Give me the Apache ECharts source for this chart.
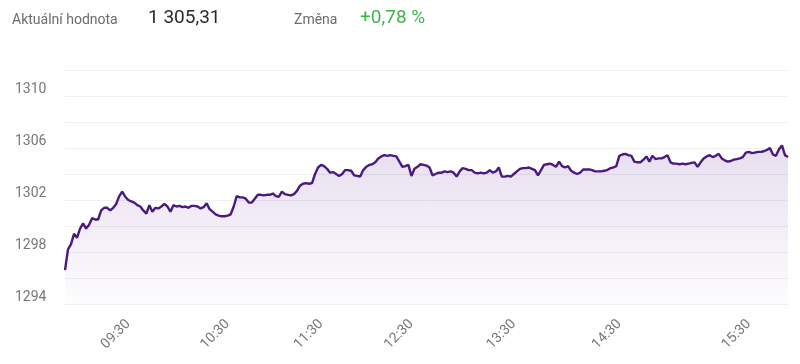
<!DOCTYPE html>
<html>
<head>
<meta charset="utf-8">
<script src="https://cdn.jsdelivr.net/npm/echarts@6/dist/echarts.min.js"></script>
<style>
html,body{margin:0;padding:0;background:#fff;}
#chart{width:800px;height:364px;}
</style>
</head>
<body>
<div id="chart"></div>
<script>
// Header texts
const headerLabel = 'Aktuální hodnota';
const headerValue = '1 305,31';
const changeLabel = 'Změna';
const changeValue = '+0,78 %';

// Tick labels shown on the time axis
const tickLabels = ['09:30', '10:30', '11:30', '12:30', '13:30', '14:30', '15:30'];
// Sampling blocks: [block start time, minutes covered, number of samples]
const sampleBlocks = [
  ['09:00', 30, 21], ['09:30', 60, 33], ['10:30', 60, 31], ['11:30', 60, 30],
  ['12:30', 60, 34], ['13:30', 60, 35], ['14:30', 60, 43], ['15:30', 20, 14]
];

// Index values
const values = [
  1296.6, 1298.2, 1298.6, 1299.4, 1299.1, 1299.8, 1300.2, 1299.8, 1300.1, 1300.6,
  1300.5, 1300.5, 1301.2, 1301.4, 1301.4, 1301.2, 1301.4, 1301.7, 1302.3, 1302.65,
  1302.25, 1302.0, 1301.9, 1301.8, 1301.6, 1301.5, 1301.2, 1300.95, 1301.6, 1301.1,
  1301.4, 1301.35, 1301.5, 1301.7, 1301.5, 1301.1, 1301.6, 1301.5, 1301.55, 1301.45,
  1301.5, 1301.4, 1301.55, 1301.55, 1301.5, 1301.35, 1301.45, 1301.75, 1301.3, 1301.1,
  1300.9, 1300.8, 1300.75, 1300.75, 1300.8, 1300.9, 1301.5, 1302.3, 1302.2, 1302.2,
  1302.1, 1301.8, 1301.8, 1302.1, 1302.4, 1302.4, 1302.35, 1302.4, 1302.4, 1302.5,
  1302.3, 1302.25, 1302.65, 1302.45, 1302.4, 1302.35, 1302.45, 1302.7, 1303.1, 1303.25,
  1303.3, 1303.25, 1303.3, 1304.0, 1304.5, 1304.7, 1304.6, 1304.4, 1304.1, 1304.15,
  1304.0, 1303.85, 1304.0, 1304.3, 1304.3, 1304.25, 1303.9, 1303.85, 1303.8, 1304.3,
  1304.55, 1304.7, 1304.75, 1304.9, 1305.2, 1305.35, 1305.45, 1305.4, 1305.45, 1305.4,
  1305.35, 1304.95, 1304.55, 1304.6, 1304.7, 1303.85, 1304.4, 1304.55, 1304.75, 1304.7,
  1304.65, 1304.5, 1303.9, 1304.0, 1304.1, 1304.1, 1304.2, 1304.15, 1304.2, 1304.1,
  1303.8, 1304.2, 1304.45, 1304.4, 1304.3, 1304.3, 1304.1, 1304.05, 1304.1, 1304.05,
  1304.1, 1304.3, 1304.1, 1304.2, 1304.5, 1303.8, 1303.8, 1303.85, 1303.8, 1304.0,
  1304.2, 1304.4, 1304.45, 1304.45, 1304.5, 1304.4, 1304.3, 1303.9, 1304.3, 1304.7,
  1304.75, 1304.8, 1304.7, 1304.55, 1304.95, 1304.6, 1304.5, 1304.6, 1304.25, 1304.1,
  1304.0, 1304.1, 1304.35, 1304.35, 1304.35, 1304.3, 1304.2, 1304.2, 1304.2, 1304.25,
  1304.3, 1304.45, 1304.5, 1304.6, 1305.4, 1305.5, 1305.55, 1305.45, 1305.4, 1304.95,
  1304.9, 1304.9, 1305.1, 1305.35, 1304.95, 1305.4, 1305.15, 1305.2, 1305.2, 1305.3,
  1305.45, 1304.9, 1304.8, 1304.8, 1304.75, 1304.8, 1304.75, 1304.8, 1304.85, 1304.9,
  1304.55, 1304.9, 1305.2, 1305.35, 1305.45, 1305.3, 1305.4, 1305.55, 1305.2, 1305.05,
  1304.95, 1305.0, 1305.1, 1305.15, 1305.2, 1305.3, 1305.65, 1305.7, 1305.6, 1305.65,
  1305.7, 1305.7, 1305.75, 1305.85, 1306.0, 1305.5, 1305.4, 1305.9, 1306.2, 1305.45,
  1305.31
];

// Build the category (time) list from the sampling blocks
function pad(n) { return (n < 10 ? '0' : '') + n; }
const times = [];
sampleBlocks.forEach(function (b) {
  const p = b[0].split(':');
  const start = parseInt(p[0], 10) * 60 + parseInt(p[1], 10);
  for (let k = 0; k < b[2]; k++) {
    const m = start + Math.floor(b[1] * k / b[2]);
    times.push(pad(Math.floor(m / 60)) + ':' + pad(m % 60));
  }
});

const chart = echarts.init(document.getElementById('chart'), null, { renderer: 'canvas' });
const font = 'Roboto, "Noto Sans", sans-serif';

chart.setOption({
  animation: false,
  graphic: [
    { type: 'text', left: 12, top: 13, style: { text: headerLabel, font: '14px ' + font, fill: '#6b6b6b' } },
    { type: 'text', left: 148, top: 9, style: { text: headerValue, font: '19px ' + font, fill: '#2b2b2b' } },
    { type: 'text', left: 294, top: 13, style: { text: changeLabel, font: '14px ' + font, fill: '#6b6b6b' } },
    { type: 'text', left: 360, top: 9, style: { text: changeValue, font: '19px ' + font, fill: '#3cb54a' } }
  ],
  grid: { left: 65, right: 12, top: 70, bottom: 60 },
  xAxis: {
    type: 'category',
    data: times,
    boundaryGap: false,
    axisLine: { show: true, lineStyle: { color: '#ececec' } },
    axisTick: { show: false },
    splitLine: { show: false },
    axisLabel: {
      rotate: 45,
      margin: 18,
      color: '#777',
      fontSize: 14,
      fontFamily: font,
      interval: function (idx, val) { return tickLabels.indexOf(val) >= 0; }
    }
  },
  yAxis: {
    type: 'value',
    min: 1294,
    max: 1312,
    interval: 2,
    axisLine: { show: false },
    axisTick: { show: false },
    splitLine: { show: true, lineStyle: { color: '#efefef', width: 1 } },
    axisLabel: {
      align: 'left',
      verticalAlign: 'bottom',
      margin: 50,
      color: '#777',
      fontSize: 14,
      fontFamily: font,
      formatter: function (v) { return ((v - 1294) % 4 === 0 && v < 1312) ? String(v) : ''; }
    }
  },
  series: [{
    type: 'line',
    data: values,
    showSymbol: false,
    symbol: 'none',
    smooth: false,
    lineStyle: { color: '#4b1a7e', width: 2.4 },
    areaStyle: {
      color: new echarts.graphic.LinearGradient(0, 0, 0, 1, [
        { offset: 0, color: 'rgba(110, 60, 160, 0.24)' },
        { offset: 1, color: 'rgba(110, 60, 160, 0.02)' }
      ])
    }
  }]
});
</script>
</body>
</html>
